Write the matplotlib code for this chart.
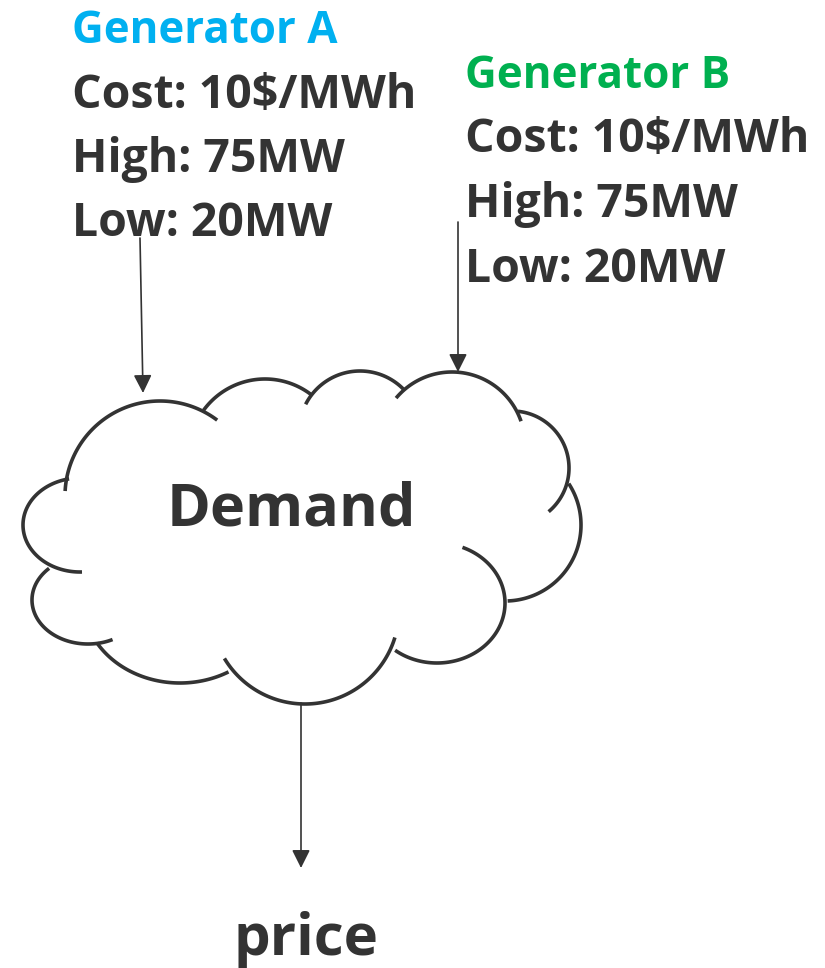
import numpy as np
import matplotlib.pyplot as plt

# generator data
gen_names = ['Generator A', 'Generator B']
gen_costs = [10, 10]      # $/MWh
gen_highs = [75, 75]      # MW
gen_lows = [20, 20]       # MW
gen_colors = ['#00B0F0', '#00B050']

center_label = 'Demand'
output_label = 'price'

DARK = '#333333'
FONT = ['Open Sans', 'DejaVu Sans']

# cloud outline: one elliptical arc per bump (cx, cy, rx, ry, start deg, end deg), image coords
cloud_bumps = [
    (160, 496, 95, 95, 183, 307),
    (265, 455, 76, 76, 216, 308),
    (360, 432, 61, 61, 207, 317),
    (452, 445, 73, 73, 220, 341),
    (512, 468, 57, 57, 276, 410),
    (505, 525, 76, 76, 327, 448),
    (437, 603, 68, 60, 292, 488),
    (305, 610, 94, 94, 17, 149),
    (180, 600, 97, 83, 60, 149),
    (88, 600, 56, 44, 64, 226),
    (80, 525, 57, 47, 88, 259),
]

fig = plt.figure(figsize=(8.25, 9.68), dpi=100)
ax = fig.add_axes([0, 0, 1, 1])
ax.set_xlim(0, 825)
ax.set_ylim(968, 0)
ax.axis('off')
renderer = fig.canvas.get_renderer()


def fitted_size(s, width):
    """Font size so that s is about width pixels wide."""
    t = ax.text(0, 0, s, fontsize=20, family=FONT, fontweight='bold')
    w = t.get_window_extent(renderer=renderer).width
    t.remove()
    return 20 * width / w


# generator text blocks
block_x = [72, 465]
block_base = [43, 88]
line_step = 64.5
for i, name in enumerate(gen_names):
    lines = [f'Cost: {gen_costs[i]}$/MWh', f'High: {gen_highs[i]}MW', f'Low: {gen_lows[i]}MW']
    size = fitted_size(lines[0], 345)
    head_size = fitted_size(name, 266)
    ax.text(block_x[i], block_base[i], name, fontsize=head_size, family=FONT,
            fontweight='bold', color=gen_colors[i], va='baseline', ha='left')
    for j, line in enumerate(lines):
        ax.text(block_x[i], block_base[i] + (j + 1) * line_step, line, fontsize=size,
                family=FONT, fontweight='bold', color=DARK, va='baseline', ha='left')

# cloud
for cx, cy, rx, ry, t1, t2 in cloud_bumps:
    t = np.radians(np.linspace(t1, t2, 120))
    ax.plot(cx + rx * np.cos(t), cy + ry * np.sin(t), color=DARK, lw=2.6,
            solid_capstyle='butt')

ax.text(167, 525, center_label, fontsize=fitted_size(center_label, 250), family=FONT,
        fontweight='bold', color=DARK, va='baseline', ha='left')
ax.text(233, 955, output_label, fontsize=fitted_size(output_label, 145), family=FONT,
        fontweight='bold', color=DARK, va='baseline', ha='left')

# arrows
arrow_style = dict(arrowstyle='-|>,head_length=1.1,head_width=0.55', mutation_scale=10,
                   lw=1.2, color=DARK, shrinkA=0, shrinkB=0)
arrows = [((140, 238), (143, 393)), ((458, 222), (458, 372)), ((301, 703), (301, 868))]
for start, tip in arrows:
    ax.annotate('', xy=tip, xytext=start, arrowprops=arrow_style)

fig.savefig('out.png', dpi=100, facecolor='white')
